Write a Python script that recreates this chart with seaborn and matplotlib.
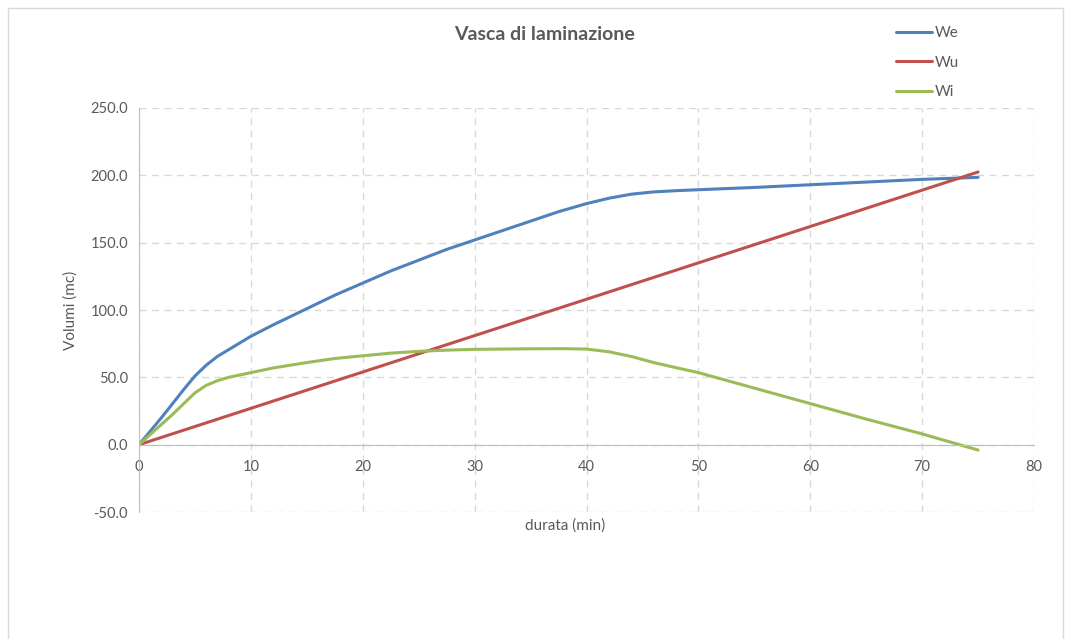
import pandas as pd
import seaborn as sns
import matplotlib.pyplot as plt
from matplotlib.patches import Rectangle

# values (min, mc)
t_we = [0, 1, 2, 3, 4, 5, 6, 7, 8, 9, 10, 12, 15, 17.5, 20, 22.5, 25, 27.5, 30,
        32.5, 35, 37.5, 40, 42, 44, 46, 48, 50, 55, 60, 65, 70, 75]
we = [0, 10, 20, 30.5, 41, 51, 59, 65.5, 70.5, 75.5, 80.5, 89, 101, 111, 120, 129, 137, 145, 152,
      159, 166, 173, 179, 183, 186, 187.7, 188.6, 189.3, 191, 193, 195, 197, 198.5]

t_wu = [0, 10, 20, 30, 40, 50, 60, 70, 75]
wu = [0, 27, 54, 81, 108, 135, 162, 189, 202.5]

t_wi = [0, 1, 2, 3, 4, 5, 6, 7, 8, 10, 12, 15, 17.5, 20, 22.5, 25, 27.5, 30, 35, 38,
        40, 42, 44, 46, 48, 50, 55, 60, 65, 70, 75]
wi = [0, 7.5, 15, 22.5, 30.5, 38.5, 44, 47.5, 50, 53.5, 57, 61, 64, 66, 68, 69.3, 70.2, 70.8, 71.2, 71.3,
      71, 69, 65.5, 61, 57.2, 53.5, 42, 30.5, 19, 8, -4]

series = ['We', 'Wu', 'Wi']
colors = ['#4F81BD', '#C0504D', '#9BBB59']

df = pd.concat([
    pd.DataFrame({'t': t_we, 'v': we, 'serie': 'We'}),
    pd.DataFrame({'t': t_wu, 'v': wu, 'serie': 'Wu'}),
    pd.DataFrame({'t': t_wi, 'v': wi, 'serie': 'Wi'}),
])

sns.set_style('white')
plt.rcParams['font.family'] = ['Lato', 'DejaVu Sans']
txt = '#595959'

fig = plt.figure(figsize=(10.71, 6.39), dpi=100)
ax = fig.add_axes([0.1298, 0.1987, 0.8357, 0.6323])

sns.lineplot(data=df, x='t', y='v', hue='serie', hue_order=series,
             palette=colors, linewidth=2.2, sort=False, estimator=None, ax=ax)
for line in ax.lines:
    line.set_solid_joinstyle('round')

ax.set_xlim(0, 80)
ax.set_ylim(-50, 250)
ax.set_xticks(range(0, 81, 10))
ax.set_yticks(range(-50, 251, 50))
ax.set_yticklabels([f'{v:.1f}' for v in range(-50, 251, 50)])
ax.grid(True, color='#D9D9D9', linestyle=(0, (5, 4)), linewidth=1)
ax.set_axisbelow(True)

for s in ['top', 'right']:
    ax.spines[s].set_visible(False)
ax.spines['bottom'].set_position(('data', 0))
ax.spines['bottom'].set_color('#BFBFBF')
ax.spines['left'].set_color('#BFBFBF')
ax.tick_params(axis='both', length=0, labelsize=10.5, colors=txt)
ax.tick_params(axis='x', pad=11)
ax.tick_params(axis='y', pad=8)

ax.set_xlabel('')
ax.set_ylabel('Volumi (mc)', fontsize=11, color=txt, labelpad=9)
fig.text(0.5275, 0.178, 'durata (min)', ha='center', va='center', fontsize=11, color=txt)
fig.text(0.508, 0.946, 'Vasca di laminazione', ha='center', va='center',
         fontsize=14, fontweight='bold', color=txt)

leg = ax.legend(title=None, loc='upper left', bbox_to_anchor=(0.83, 1.236),
                frameon=False, fontsize=11, handlelength=2.4, handletextpad=0.15,
                labelspacing=1.0, labelcolor=txt)

fig.patches.append(Rectangle((0.0075, -0.1), 0.985, 1.088, transform=fig.transFigure,
                             fill=False, edgecolor='#D9D9D9', linewidth=1))

plt.savefig('out.png', dpi=100)
